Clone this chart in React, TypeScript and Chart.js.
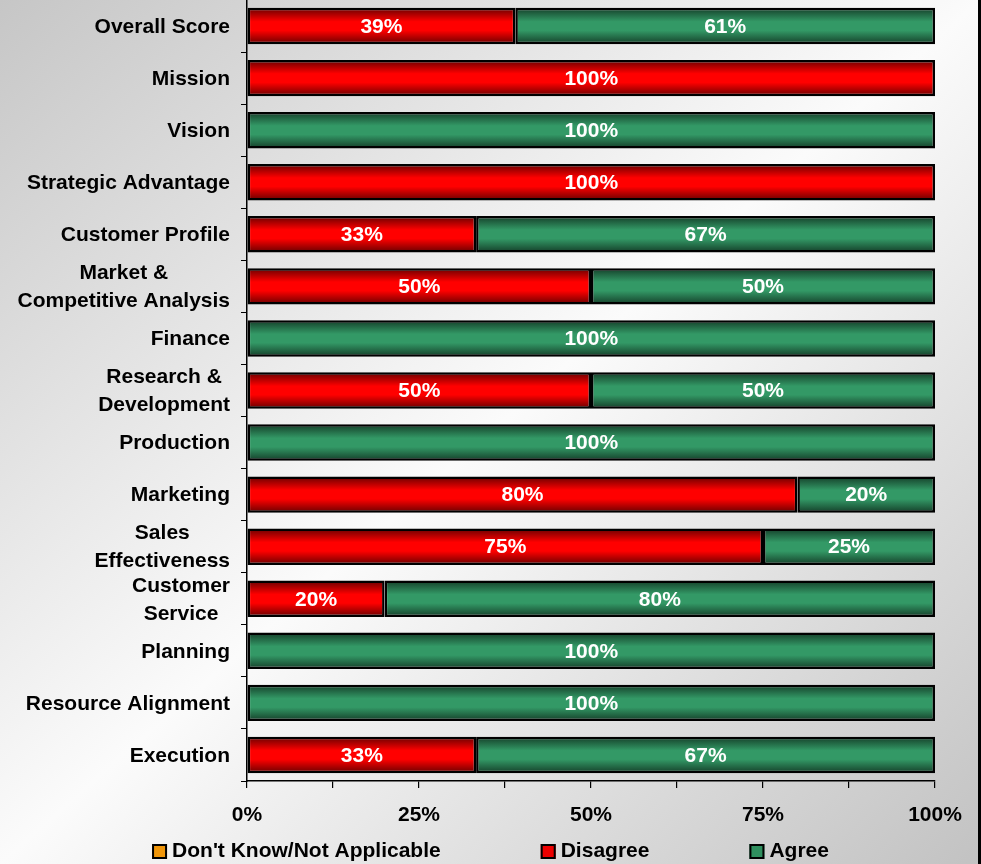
import React, { useEffect, useRef } from 'react';
import { Chart, registerables } from 'chart.js';

Chart.register(...registerables);

const categories: (string | string[])[] = [
  'Overall Score',
  'Mission',
  'Vision',
  'Strategic Advantage',
  'Customer Profile',
  ['Market &', 'Competitive Analysis'],
  'Finance',
  ['Research &', 'Development'],
  'Production',
  'Marketing',
  ['Sales', 'Effectiveness'],
  ['Customer', 'Service'],
  'Planning',
  'Resource Alignment',
  'Execution',
];

const seriesNames = ["Don't Know/Not Applicable", 'Disagree', 'Agree'];
const dontKnow = [0, 0, 0, 0, 0, 0, 0, 0, 0, 0, 0, 0, 0, 0, 0];
const disagree = [39, 100, 0, 100, 33.3, 50, 0, 50, 0, 80, 75, 20, 0, 0, 33.3];
const agree = [61, 0, 100, 0, 66.7, 50, 100, 50, 100, 20, 25, 80, 100, 100, 66.7];

const xTickValues = [0, 25, 50, 75, 100];
const xTickLabels = ['0%', '25%', '50%', '75%', '100%'];

const FONT_FAMILY = "'Liberation Sans', Arial, Helvetica, sans-serif";
const FONT = `bold 21px ${FONT_FAMILY}`;
const BAR_PCT = 0.7;

const palette = {
  orange: { dark: '#8a4a00', mid: '#ff9900', legend: '#f0960a' },
  red: { dark: '#660000', mid: '#ff0000', legend: '#ee0000' },
  green: { dark: '#143d28', mid: '#339966', legend: '#2f8f5e' },
};

function barFill(c: any, col: { dark: string; mid: string }) {
  const chart = c.chart;
  const ys = chart.scales && chart.scales.y;
  if (!chart.chartArea || !ys || c.type !== 'data') return col.mid;
  const cy = ys.getPixelForValue(c.dataIndex);
  const slot = chart.chartArea.height / categories.length;
  const h = slot * BAR_PCT;
  const g = chart.ctx.createLinearGradient(0, cy - h / 2, 0, cy + h / 2);
  g.addColorStop(0, col.dark);
  g.addColorStop(0.38, col.mid);
  g.addColorStop(0.62, col.mid);
  g.addColorStop(1, col.dark);
  return g;
}

const valueLabelPlugin = {
  id: 'valueLabels',
  afterDatasetsDraw(chart: any) {
    const ctx = chart.ctx;
    ctx.save();
    ctx.font = FONT;
    ctx.fillStyle = '#ffffff';
    ctx.textAlign = 'center';
    ctx.textBaseline = 'middle';
    chart.data.datasets.forEach((ds: any, di: number) => {
      const meta = chart.getDatasetMeta(di);
      meta.data.forEach((el: any, i: number) => {
        const v = ds.data[i];
        if (!v) return;
        const p = el.getCenterPoint();
        ctx.fillText(Math.round(v) + '%', p.x, p.y + 1);
      });
    });
    ctx.restore();
  },
};

const yLabelPlugin = {
  id: 'yLabels',
  afterDraw(chart: any) {
    const ctx = chart.ctx;
    const ys = chart.scales.y;
    ctx.save();
    ctx.font = FONT;
    ctx.fillStyle = '#000000';
    ctx.textAlign = 'center';
    ctx.textBaseline = 'middle';
    const right = ys.right - 17;
    categories.forEach((lab, i) => {
      const lines = Array.isArray(lab) ? lab : [lab];
      const w = Math.max(...lines.map((l) => ctx.measureText(l).width));
      const cx = right - w / 2;
      const cy = ys.getPixelForTick(i);
      lines.forEach((l, j) => {
        ctx.fillText(l, cx, cy + 1 + (j - (lines.length - 1) / 2) * 28);
      });
    });
    ctx.restore();
  },
};

const legendColors = [palette.orange.legend, palette.red.legend, palette.green.legend];

const customLegendPlugin = {
  id: 'customLegend',
  afterDraw(chart: any) {
    const ctx = chart.ctx;
    ctx.save();
    ctx.font = FONT;
    ctx.textBaseline = 'middle';
    ctx.textAlign = 'left';
    const box = 15;
    const gapText = 5;
    const gapItem = 100;
    const widths = seriesNames.map((n) => box + gapText + ctx.measureText(n).width);
    const total = widths.reduce((a, b) => a + b, 0) + gapItem * (widths.length - 1);
    let x = chart.width / 2 - total / 2;
    const cy = 851.5;
    seriesNames.forEach((n, i) => {
      ctx.fillStyle = legendColors[i];
      ctx.fillRect(x, cy - box / 2, box, box);
      ctx.strokeStyle = '#000000';
      ctx.lineWidth = 2;
      ctx.strokeRect(x + 1, cy - box / 2 + 1, box - 2, box - 2);
      ctx.fillStyle = '#000000';
      ctx.fillText(n, x + box + gapText, cy);
      x += widths[i] + gapItem;
    });
    ctx.restore();
  },
};

export default function App() {
  const ref = useRef<HTMLCanvasElement | null>(null);

  useEffect(() => {
    if (!ref.current) return;
    const chart = new Chart(ref.current, {
      type: 'bar',
      data: {
        labels: categories as any,
        datasets: [
          {
            label: seriesNames[0],
            data: dontKnow,
            backgroundColor: (c: any) => barFill(c, palette.orange),
            borderColor: '#000000',
            borderWidth: 0,
            borderSkipped: false,
            barPercentage: BAR_PCT,
            categoryPercentage: 1,
          },
          {
            label: seriesNames[1],
            data: disagree,
            backgroundColor: (c: any) => barFill(c, palette.red),
            borderColor: '#000000',
            borderWidth: 2.5,
            borderSkipped: false,
            barPercentage: BAR_PCT,
            categoryPercentage: 1,
          },
          {
            label: seriesNames[2],
            data: agree,
            backgroundColor: (c: any) => barFill(c, palette.green),
            borderColor: '#000000',
            borderWidth: 2.5,
            borderSkipped: false,
            barPercentage: BAR_PCT,
            categoryPercentage: 1,
          },
        ],
      },
      options: {
        indexAxis: 'y',
        responsive: false,
        animation: false,
        devicePixelRatio: 1,
        layout: { padding: { top: 0, left: 0, right: 0, bottom: 33 } },
        plugins: {
          legend: { display: false },
          tooltip: { enabled: false },
        },
        scales: {
          x: {
            type: 'linear',
            stacked: true,
            min: 0,
            max: 100,
            afterFit: (s: any) => {
              s.height = 50;
            },
            afterBuildTicks: (s: any) => {
              const vals: number[] = [];
              for (let i = 0; i < xTickValues.length; i++) {
                vals.push(xTickValues[i]);
                if (i < xTickValues.length - 1) vals.push((xTickValues[i] + xTickValues[i + 1]) / 2);
              }
              s.ticks = vals.map((v) => ({ value: v }));
            },
            grid: {
              drawOnChartArea: false,
              drawTicks: true,
              tickLength: 7,
              color: '#000000',
              lineWidth: 1.2,
            },
            border: { display: true, color: '#000000', width: 1.5 },
            ticks: {
              autoSkip: false,
              maxRotation: 0,
              padding: 15,
              color: '#000000',
              font: { family: FONT_FAMILY, size: 21, weight: 'bold' },
              callback: (v: any) => {
                const idx = xTickValues.indexOf(Number(v));
                return idx >= 0 ? xTickLabels[idx] : '';
              },
            },
          },
          y: {
            type: 'category',
            stacked: true,
            position: 'left',
            afterFit: (s: any) => {
              s.width = 247;
            },
            grid: {
              offset: true,
              drawOnChartArea: false,
              drawTicks: true,
              tickLength: 6,
              color: '#000000',
              lineWidth: 1,
            },
            border: { display: true, color: '#000000', width: 1.5 },
            ticks: { display: false },
          },
          y2: {
            type: 'linear',
            position: 'right',
            display: true,
            afterFit: (s: any) => {
              s.width = 46;
            },
            grid: { display: false, drawTicks: false },
            border: { display: false },
            ticks: { display: false },
          },
        },
      } as any,
      plugins: [valueLabelPlugin, yLabelPlugin, customLegendPlugin],
    });
    return () => chart.destroy();
  }, []);

  return (
    <div
      style={{
        position: 'absolute',
        left: 0,
        top: 0,
        width: 981,
        height: 864,
        overflow: 'hidden',
        background: 'linear-gradient(to bottom right, #c6c6c6 0%, #fbfbfb 50%, #c2c2c2 100%)',
      }}
    >
      <div
        style={{ position: 'absolute', right: 0, top: 0, width: 3, height: 864, background: '#000000' }}
      />
      <canvas
        ref={ref}
        width={981}
        height={864}
        style={{ position: 'absolute', left: 0, top: 0, width: 981, height: 864 }}
      />
    </div>
  );
}
